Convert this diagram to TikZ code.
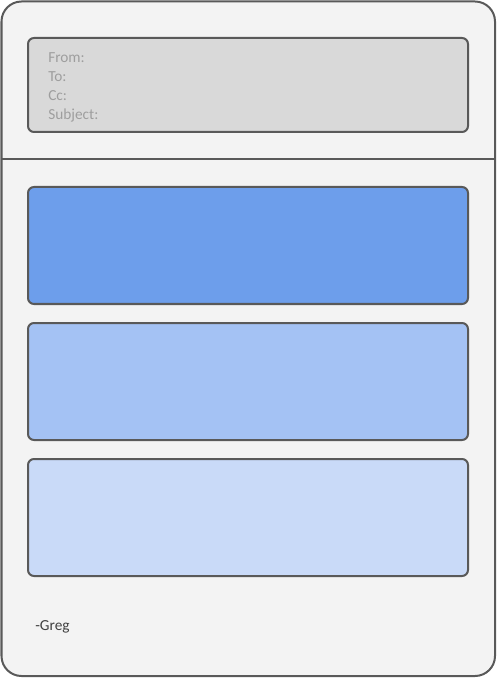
\documentclass[tikz,border=0pt]{standalone}
\usepackage{fontspec}
\setmainfont{Carlito}
\definecolor{pagefill}{HTML}{F3F3F3}
\definecolor{edge}{HTML}{595959}
\definecolor{hdrfill}{HTML}{D9D9D9}
\definecolor{hdrtext}{HTML}{9E9E9E}
\definecolor{blueA}{HTML}{6D9EEB}
\definecolor{blueB}{HTML}{A4C2F4}
\definecolor{blueC}{HTML}{C9DAF8}
\definecolor{sigtext}{HTML}{404040}
\tikzset{
  px/.style={x=0.75pt,y=-0.75pt},
  panel/.style={draw=edge,line width=1.5pt,rounded corners=4.5pt},
  lbl/.style={anchor=west,inner sep=0pt,font=\fontsize{11.5pt}{13pt}\selectfont}
}
\begin{document}
\begin{tikzpicture}[px]
\useasboundingbox (0,0) rectangle (500,680);
\path[draw=edge,fill=pagefill,line width=1.5pt,rounded corners=15pt] (1.5,1.5) rectangle (495,676) coordinate (pageBR);
\coordinate (divL) at (2,159);
\coordinate (divR) at (494,159);
\draw[edge,line width=1.5pt] (divL) -- (divR);
\path[panel,fill=hdrfill] (28,38) rectangle (468,132);
\node[lbl,text=hdrtext] (from) at (48,58) {From:};
\node[lbl,text=hdrtext] (to) at (48,77) {To:};
\node[lbl,text=hdrtext] (cc) at (48,96) {Cc:};
\node[lbl,text=hdrtext] (subj) at (48,115) {Subject:};
\path[panel,fill=blueA] (28,187) rectangle (468,304);
\path[panel,fill=blueB] (28,323) rectangle (468,440);
\path[panel,fill=blueC] (28,459) rectangle (468,576);
\node[lbl,text=sigtext] (sig) at (35,627) {-Greg};
\end{tikzpicture}
\end{document}
